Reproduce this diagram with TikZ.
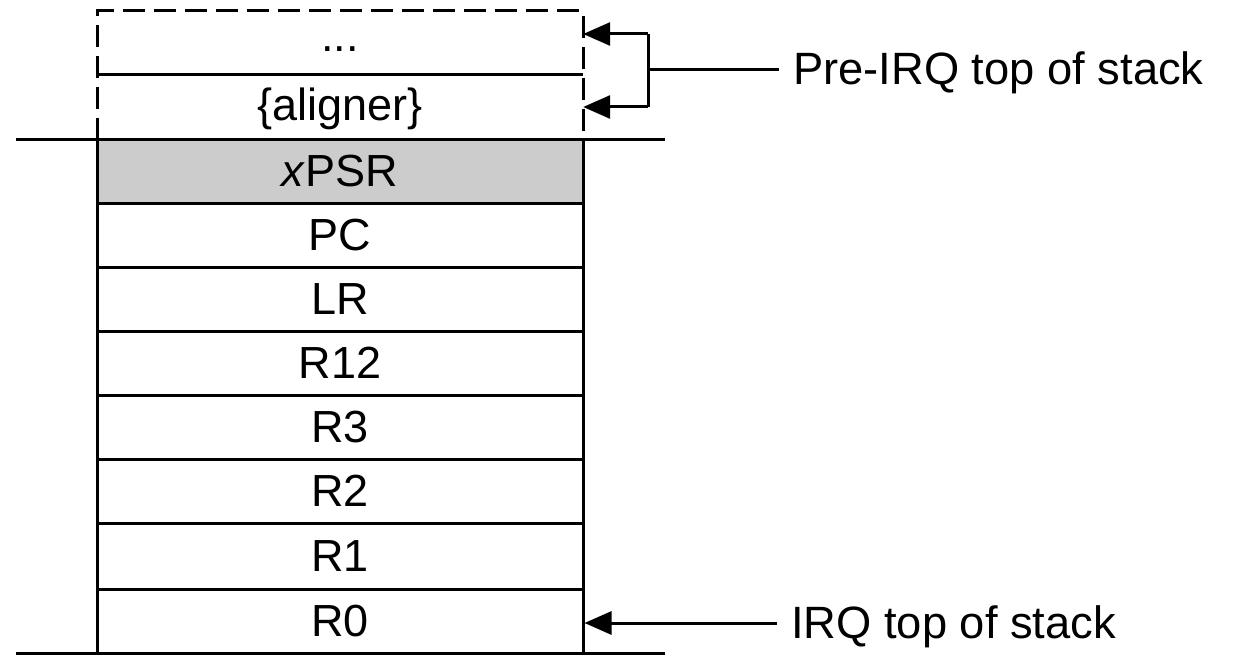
\documentclass[tikz,border=0pt]{standalone}
\usepackage{fontspec}
\setmainfont{Liberation Sans}
\usetikzlibrary{arrows.meta}
\begin{document}
\begin{tikzpicture}[x=1pt,y=-1pt,
  ln/.style={line width=3pt},
  row/.style={draw,line width=3pt,minimum width=486pt,inner sep=0pt,font=\fontsize{45}{54}\selectfont},
  cell/.style={minimum width=486pt,inner sep=0pt,font=\fontsize{45}{54}\selectfont},
  arr/.style={line width=3pt,-{Triangle[length=27pt,width=23pt]}},
  lbl/.style={anchor=base west,inner sep=14pt,font=\fontsize{45.3}{54}\selectfont}]
\useasboundingbox (0,0) rectangle (1237,658);
% dashed region
\node[cell,minimum height=63pt] (dots) at (340,42.5) {\raisebox{-7pt}[\height][\depth]{...}};
\node[cell,minimum height=66pt] (align) at (340,107) {\raisebox{-2pt}[\height][\depth]{\{aligner\}}};
\draw[ln,dash pattern=on 22pt off 9pt] (97,140) -- (97,11) -- (583,11) -- (583,140);
\draw[ln] (dots.south west) -- (dots.south east);
% stack rows
\node[row,fill=black!20,minimum height=63pt] (xpsr) at (340,171.5) {\textit{x}PSR};
\node[row,minimum height=64pt] (pc) at (340,235) {PC};
\node[row,minimum height=64pt] (lr) at (340,299) {LR};
\node[row,minimum height=64pt] (r12) at (340,363) {R12};
\node[row,minimum height=64pt] (r3) at (340,427) {R3};
\node[row,minimum height=64pt] (r2) at (340,491) {R2};
\node[row,minimum height=66pt] (r1) at (340,556) {R1};
\node[row,minimum height=64pt] (r0) at (340,621) {R0};
% long horizontal lines
\coordinate (tl) at (16,140);
\coordinate (tr) at (665,140);
\coordinate (bl) at (16,653);
\coordinate (br) at (665,653);
\draw[ln] (tl) -- (tr);
\draw[ln] (bl) -- (br);
% Pre-IRQ bracket
\coordinate (b1) at (648,34);
\coordinate (b2) at (648,107);
\coordinate (bm) at (648,70);
\node[lbl] (pre) at (779,85) {Pre-IRQ top of stack};
\draw[ln] (pre.west |- bm) -- (bm);
\draw[arr] (b1) -- (b1 -| dots.east);
\draw[arr] (b2) -- (b2 -| align.east);
\draw[ln] (b1) -- (b2);
% IRQ label
\coordinate (ia) at (777,623);
\node[lbl] (irq) at (777,638) {IRQ top of stack};
\draw[arr] (irq.west |- ia) -- (ia -| r0.east);
\end{tikzpicture}
\end{document}
